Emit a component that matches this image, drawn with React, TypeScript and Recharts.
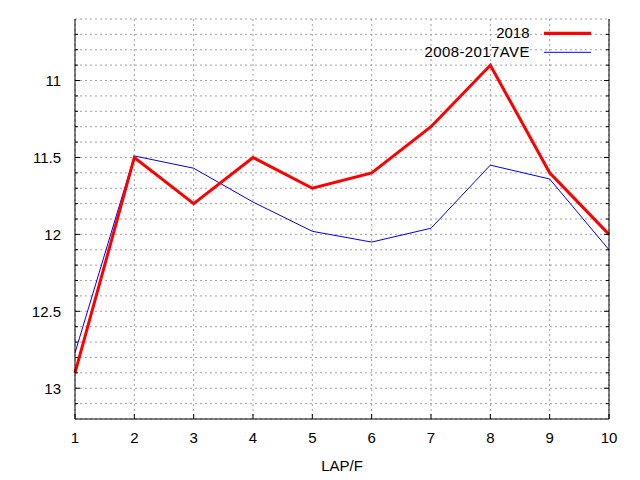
import React from 'react';
import { LineChart, Line, XAxis, YAxis, CartesianGrid } from 'recharts';

const laps = [1, 2, 3, 4, 5, 6, 7, 8, 9, 10];
const lap2018 = [12.9, 11.5, 11.8, 11.5, 11.7, 11.6, 11.3, 10.9, 11.6, 12.0];
const lapAve = [12.77, 11.49, 11.57, 11.79, 11.98, 12.05, 11.96, 11.55, 11.64, 12.1];

const yTicks = [
  10.7, 10.8, 10.9, 11, 11.1, 11.2, 11.3, 11.4, 11.5, 11.6, 11.7, 11.8, 11.9,
  12, 12.1, 12.2, 12.3, 12.4, 12.5, 12.6, 12.7, 12.8, 12.9, 13, 13.1,
];

const data = laps.map((lap, i) => ({ lap, y2018: lap2018[i], ave: lapAve[i] }));

const FONT = '"Liberation Sans", Arial, sans-serif';

const isMajor = (v: number) => Math.abs(v * 2 - Math.round(v * 2)) < 1e-6;

const LeftTick = (props: any) => {
  const { x, y, payload } = props;
  const major = isMajor(payload.value);
  return (
    <g>
      <line x1={x} x2={x + (major ? 5 : 3)} y1={y} y2={y} stroke="#000" />
      {major && (
        <text x={x - 14} y={y} textAnchor="end" dominantBaseline="central" fontSize={15} fill="#000" fontFamily={FONT}>
          {payload.value}
        </text>
      )}
    </g>
  );
};

const RightTick = (props: any) => {
  const { x, y, payload } = props;
  const major = isMajor(payload.value);
  return <line x1={x} x2={x - (major ? 5 : 3)} y1={y} y2={y} stroke="#000" />;
};

const BottomTick = (props: any) => {
  const { x, y, payload } = props;
  return (
    <g>
      <line x1={x} x2={x} y1={y} y2={y - 5} stroke="#000" />
      <text x={x} y={y + 18.5} textAnchor="middle" dominantBaseline="central" fontSize={15} fill="#000" fontFamily={FONT}>
        {payload.value}
      </text>
    </g>
  );
};

const TopTick = (props: any) => {
  const { x, y } = props;
  return <line x1={x} x2={x} y1={y} y2={y + 5} stroke="#000" />;
};

export default function App() {
  return (
    <div style={{ position: 'absolute', left: 0, top: 0, width: 640, height: 480, background: '#fff' }}>
      <LineChart width={640} height={480} data={data} margin={{ top: 19, right: 0, bottom: 0, left: 0 }} style={{ fontFamily: FONT }}>
        <CartesianGrid stroke="#a0a0a0" strokeDasharray="2 3" />
        <XAxis
          dataKey="lap"
          type="number"
          domain={[1, 10]}
          ticks={laps}
          height={61}
          axisLine={{ stroke: '#000' }}
          tickLine={false}
          tickSize={0}
          tickMargin={0}
          tick={<BottomTick />}
        />
        <XAxis
          xAxisId="top"
          orientation="top"
          dataKey="lap"
          type="number"
          domain={[1, 10]}
          ticks={laps}
          height={0}
          axisLine={{ stroke: '#000' }}
          tickLine={false}
          tickSize={0}
          tickMargin={0}
          tick={<TopTick />}
        />
        <YAxis
          type="number"
          domain={[10.6, 13.2]}
          reversed
          allowDataOverflow
          ticks={yTicks}
          interval={0}
          width={75}
          axisLine={{ stroke: '#000' }}
          tickLine={false}
          tickSize={0}
          tickMargin={0}
          tick={<LeftTick />}
        />
        <YAxis
          yAxisId="right"
          orientation="right"
          type="number"
          domain={[10.6, 13.2]}
          reversed
          allowDataOverflow
          ticks={yTicks}
          interval={0}
          width={31}
          axisLine={{ stroke: '#000' }}
          tickLine={false}
          tickSize={0}
          tickMargin={0}
          tick={<RightTick />}
        />
        <Line dataKey="ave" stroke="#0000ff" strokeWidth={1} dot={false} isAnimationActive={false} />
        <Line dataKey="y2018" stroke="#ff0000" strokeWidth={3} dot={false} isAnimationActive={false} />
      </LineChart>
      <svg width={640} height={480} style={{ position: 'absolute', left: 0, top: 0, pointerEvents: 'none' }}>
        <text x={529.5} y={32.5} textAnchor="end" dominantBaseline="central" fontSize={15} fontFamily={FONT}>2018</text>
        <line x1={544} x2={591} y1={33.3} y2={33.3} stroke="#ff0000" strokeWidth={3.3} />
        <text x={529.5} y={51} textAnchor="end" dominantBaseline="central" fontSize={15} fontFamily={FONT} textLength={105} lengthAdjust="spacing">2008-2017AVE</text>
        <line x1={544} x2={591} y1={52.3} y2={52.3} stroke="#0000ff" strokeWidth={1} />
        <text x={342} y={465} textAnchor="middle" dominantBaseline="central" fontSize={15} fontFamily={FONT}>LAP/F</text>
      </svg>
    </div>
  );
}
